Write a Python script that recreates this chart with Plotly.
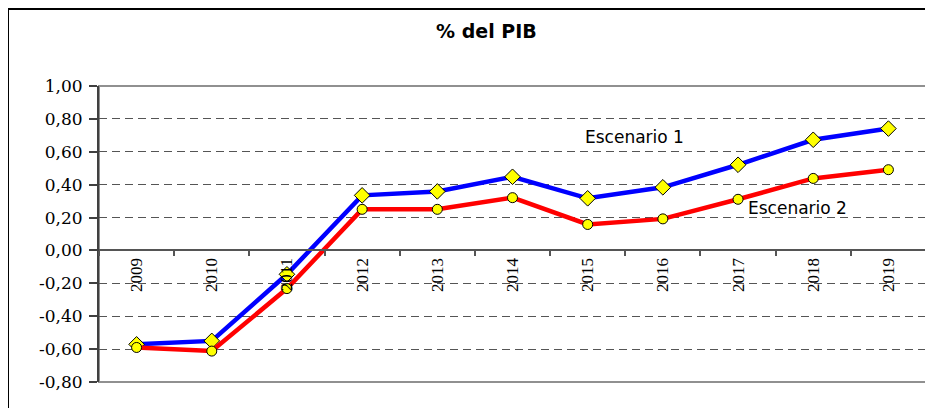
import plotly.graph_objects as go

years = ["2009", "2010", "2011", "2012", "2013", "2014", "2015", "2016", "2017", "2018", "2019"]
escenario1 = [-0.571, -0.550, -0.145, 0.335, 0.359, 0.448, 0.317, 0.384, 0.521, 0.673, 0.741]
escenario2 = [-0.590, -0.612, -0.232, 0.250, 0.250, 0.321, 0.158, 0.192, 0.311, 0.438, 0.491]
ytick_vals = [1.0, 0.8, 0.6, 0.4, 0.2, 0.0, -0.2, -0.4, -0.6, -0.8]
ytick_text = ["1,00", "0,80", "0,60", "0,40", "0,20", "0,00", "-0,20", "-0,40", "-0,60", "-0,80"]

# page is rendered with an 8px body margin, so the figure is sized/offset accordingly
OFF = 8
W, H = 933 - OFF, 408 - OFF
L, R, T, B = 99, 926, 86, 382  # page coordinates of the plot area
ymin, ymax = -0.8, 1.0


def px(xp):
    return (xp - L) / (R - L)


def py(yp):
    return (B - yp) / (B - T)


fig = go.Figure()
fig.add_trace(go.Scatter(
    x=years, y=escenario1, mode="lines+markers", name="Escenario 1",
    line=dict(color="#0000FF", width=4.5),
    marker=dict(symbol="diamond", size=12, color="#FFFF00", line=dict(color="black", width=1)),
))
fig.add_trace(go.Scatter(
    x=years, y=escenario2, mode="lines+markers", name="Escenario 2",
    line=dict(color="#FF0000", width=4.5),
    marker=dict(symbol="circle", size=10, color="#FFFF00", line=dict(color="black", width=1)),
))

fig.update_layout(
    width=W, height=H,
    margin=dict(l=L - OFF, r=(933 - R), t=T - OFF, b=(408 - B), pad=0, autoexpand=False),
    paper_bgcolor="white", plot_bgcolor="white",
    showlegend=False,
    xaxis=dict(
        type="category", range=[-0.5, 10.5],
        anchor="free", position=(0 - ymin) / (ymax - ymin),
        showline=True, linecolor="#555555", linewidth=1.5,
        ticks="outside", ticklen=5, tickcolor="#555555", tickwidth=1.5,
        tickson="boundaries", tickangle=-90,
        tickfont=dict(family="Liberation Serif", size=17, color="black"),
        showgrid=False, zeroline=False, automargin=False,
    ),
    yaxis=dict(
        range=[ymin, ymax], domain=[0, 1],
        tickvals=ytick_vals, ticktext=ytick_text,
        showline=True, linecolor="#404040", linewidth=2,
        ticks="outside", ticklen=8, tickcolor="#404040", tickwidth=1.5,
        tickfont=dict(family="DejaVu Serif", size=17, color="black"),
        showgrid=True, gridcolor="#555555", gridwidth=1, griddash="8px,5px",
        zeroline=False, ticklabelstandoff=3, automargin=False,
    ),
    shapes=[
        dict(type="rect", xref="paper", yref="paper", x0=0, x1=1, y0=0, y1=1,
             line=dict(color="#909090", width=2), layer="below"),
        dict(type="rect", xref="paper", yref="paper", x0=px(8), x1=px(945), y0=py(9), y1=py(430),
             line=dict(color="black", width=2)),
    ],
    annotations=[
        dict(text="<b>% del PIB</b>", xref="paper", yref="paper", x=px(486), y=py(31),
             xanchor="center", yanchor="middle", showarrow=False,
             font=dict(family="DejaVu Sans", size=19, color="black")),
        dict(text="Escenario 1", xref="paper", yref="y", x=px(634), y=(250 - 136.7) / 164.6,
             xanchor="center", yanchor="middle", showarrow=False,
             font=dict(family="DejaVu Sans", size=17, color="black")),
        dict(text="Escenario 2", xref="paper", yref="y", x=px(797.5), y=(250 - 207.7) / 164.6,
             xanchor="center", yanchor="middle", showarrow=False,
             font=dict(family="DejaVu Sans", size=17, color="black")),
    ],
)

fig.write_html("out.html")
